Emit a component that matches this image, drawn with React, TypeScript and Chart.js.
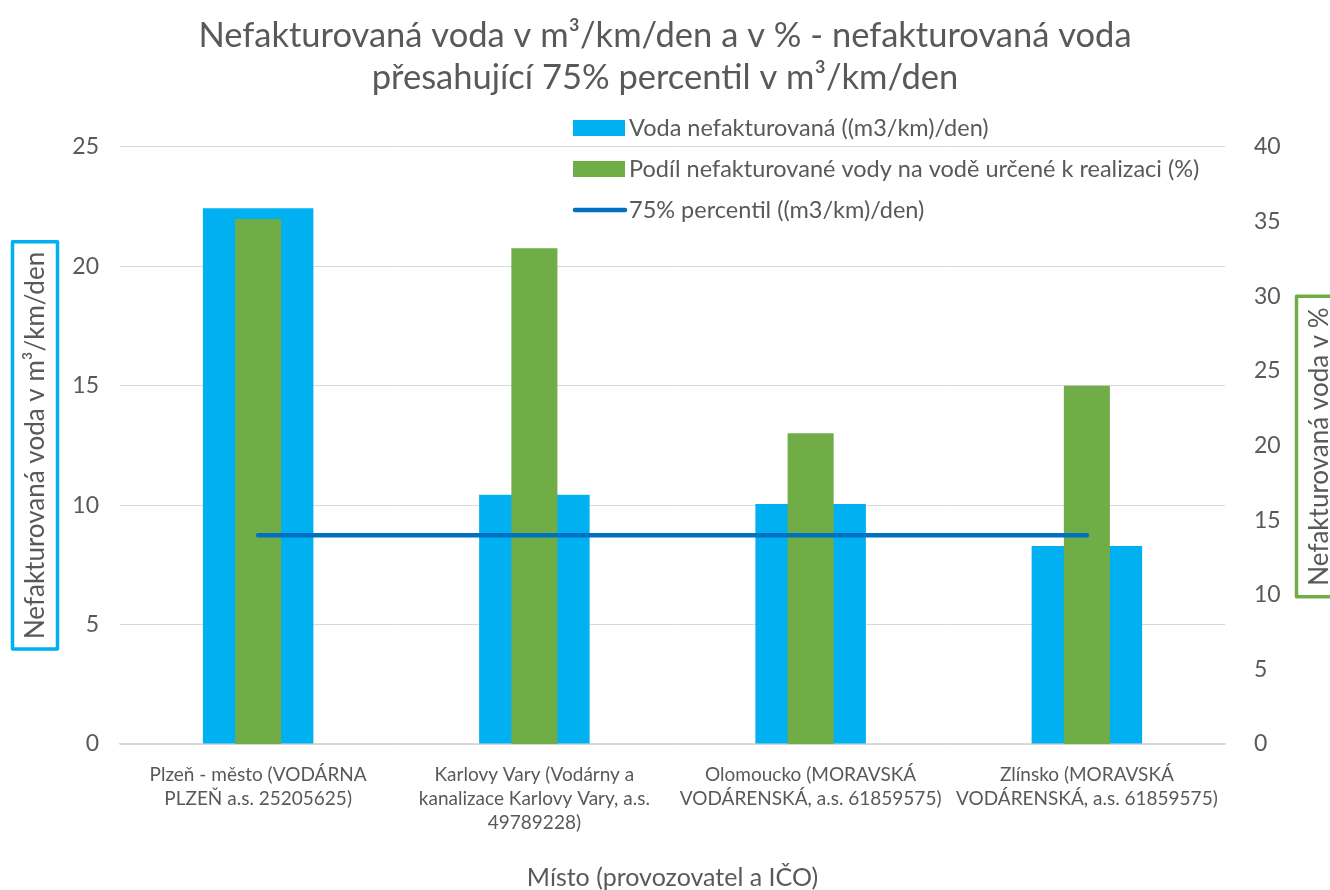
import React, { useEffect, useRef } from "react";
import { Chart, registerables } from "chart.js";

Chart.register(...registerables);

// ---- data ----
const categories: string[][] = [
  ["Plzeň - město (VODÁRNA", "PLZEŇ a.s. 25205625)"],
  ["Karlovy Vary (Vodárny a", "kanalizace Karlovy Vary, a.s.", "49789228)"],
  ["Olomoucko (MORAVSKÁ", "VODÁRENSKÁ, a.s. 61859575)"],
  ["Zlínsko (MORAVSKÁ", "VODÁRENSKÁ, a.s. 61859575)"],
];
const unbilledVolume = [22.43, 10.44, 10.05, 8.29];
const unbilledShare = [35.18, 33.21, 20.82, 24.0];
const percentile75 = [8.74, 8.74, 8.74, 8.74];
const seriesNames = [
  "Voda nefakturovaná ((m3/km)/den)",
  "Podíl nefakturované vody na vodě určené k realizaci (%)",
  "75% percentil ((m3/km)/den)",
];
const titleLines = [
  "Nefakturovaná voda v m³/km/den a v % - nefakturovaná voda",
  "přesahující 75% percentil v m³/km/den",
];
const leftAxisTitle = "Nefakturovaná voda v m³/km/den";
const rightAxisTitle = "Nefakturovaná voda v %";
const xAxisTitle = "Místo (provozovatel a IČO)";
const leftTicks = { min: 0, max: 25, step: 5 };
const rightTicks = { min: 0, max: 40, step: 5 };

// ---- style ----
const FONT = "Lato";
const TEXT = "#595959";
const GRID = "#D9D9D9";
const BLUE = "#00B0F0";
const GREEN = "#70AD47";
const LINE = "#0070C0";

const overlayPlugin = {
  id: "overlay",
  afterDraw(chart: any) {
    const ctx = chart.ctx as CanvasRenderingContext2D;
    // legend
    ctx.save();
    const lx = 573;
    const rows = [128, 169, 210];
    ctx.font = `23.5px ${FONT}`;
    ctx.textBaseline = "middle";
    ctx.textAlign = "left";
    ctx.fillStyle = BLUE;
    ctx.fillRect(lx, rows[0] - 8, 52, 16);
    ctx.fillStyle = GREEN;
    ctx.fillRect(lx, rows[1] - 8, 52, 16);
    ctx.strokeStyle = LINE;
    ctx.lineWidth = 4.5;
    ctx.lineCap = "round";
    ctx.beginPath();
    ctx.moveTo(lx + 2, rows[2]);
    ctx.lineTo(lx + 52, rows[2]);
    ctx.stroke();
    ctx.fillStyle = TEXT;
    seriesNames.forEach((n, i) => ctx.fillText(n, lx + 56, rows[i]));
    ctx.restore();

    // axis titles with boxes
    const drawBoxed = (text: string, cx: number, cy: number, color: string, pad: number) => {
      ctx.save();
      ctx.font = `26px ${FONT}`;
      const w = ctx.measureText(text).width;
      ctx.translate(cx, cy);
      ctx.rotate(-Math.PI / 2);
      ctx.fillStyle = TEXT;
      ctx.textAlign = "center";
      ctx.textBaseline = "middle";
      ctx.fillText(text, 0, 1);
      ctx.strokeStyle = color;
      ctx.lineWidth = 3.5;
      ctx.lineJoin = "round";
      const half = w / 2 + pad;
      ctx.strokeRect(-half, -22.5, half * 2, 45);
      ctx.restore();
    };
    const ca = chart.chartArea;
    drawBoxed(leftAxisTitle, 35, (ca.top + ca.bottom) / 2, BLUE, 10);
    drawBoxed(rightAxisTitle, 1319, (ca.top + ca.bottom) / 2 + 1, GREEN, 11);
  },
};

export default function App() {
  const ref = useRef<HTMLCanvasElement | null>(null);
  useEffect(() => {
    if (!ref.current) return;
    const chart = new Chart(ref.current, {
      type: "bar",
      data: {
        labels: categories as any,
        datasets: [
          {
            type: "line",
            label: seriesNames[2],
            data: percentile75,
            yAxisID: "y",
            borderColor: LINE,
            backgroundColor: LINE,
            borderWidth: 4.5,
            borderCapStyle: "round",
            pointRadius: 0,
            fill: false,
            order: 0,
          } as any,
          {
            type: "bar",
            label: seriesNames[1],
            data: unbilledShare,
            yAxisID: "y1",
            backgroundColor: GREEN,
            borderWidth: 0,
            grouped: false,
            categoryPercentage: 1,
            barPercentage: 0.1667,
            order: 1,
          } as any,
          {
            type: "bar",
            label: seriesNames[0],
            data: unbilledVolume,
            yAxisID: "y",
            backgroundColor: BLUE,
            borderWidth: 0,
            grouped: false,
            categoryPercentage: 1,
            barPercentage: 0.4,
            order: 2,
          } as any,
        ],
      },
      options: {
        responsive: false,
        animation: false,
        layout: { padding: 0 },
        plugins: {
          legend: { display: false },
          tooltip: { enabled: false },
          title: {
            display: true,
            text: titleLines,
            color: TEXT,
            font: { family: FONT, size: 34.5, weight: "normal", lineHeight: 1.24 },
            padding: { top: 14, bottom: 47.4 },
          },
        },
        scales: {
          x: {
            grid: { display: false, drawTicks: false },
            border: { display: true, color: GRID, width: 1.5 },
            ticks: {
              color: TEXT,
              font: { family: FONT, size: 19, lineHeight: 1.25 },
              padding: 19,
              maxRotation: 0,
              autoSkip: false,
            },
            title: {
              display: true,
              text: xAxisTitle,
              color: TEXT,
              font: { family: FONT, size: 25, lineHeight: 1.0 },
              padding: { top: 0, bottom: 0 },
            },
            afterFit: (s: any) => {
              s.height = 146;
            },
          },
          y: {
            position: "left",
            min: leftTicks.min,
            max: leftTicks.max,
            grid: { color: GRID, lineWidth: 1, drawTicks: false },
            border: { display: false },
            ticks: {
              stepSize: leftTicks.step,
              color: TEXT,
              font: { family: FONT, size: 23 },
              padding: 21,
            },
            afterFit: (s: any) => {
              s.width = 120;
            },
          },
          y1: {
            position: "right",
            min: rightTicks.min,
            max: rightTicks.max,
            grid: { display: false, drawTicks: false },
            border: { display: false },
            ticks: {
              stepSize: rightTicks.step,
              color: TEXT,
              font: { family: FONT, size: 23 },
              padding: 29,
            },
            afterFit: (s: any) => {
              s.width = 105;
            },
          },
        },
      },
      plugins: [overlayPlugin],
    } as any);
    return () => chart.destroy();
  }, []);
  return (
    <div style={{ position: "absolute", left: 0, top: 0, width: 1330, height: 890, background: "#fff" }}>
      <canvas ref={ref} width={1330} height={890} />
    </div>
  );
}
